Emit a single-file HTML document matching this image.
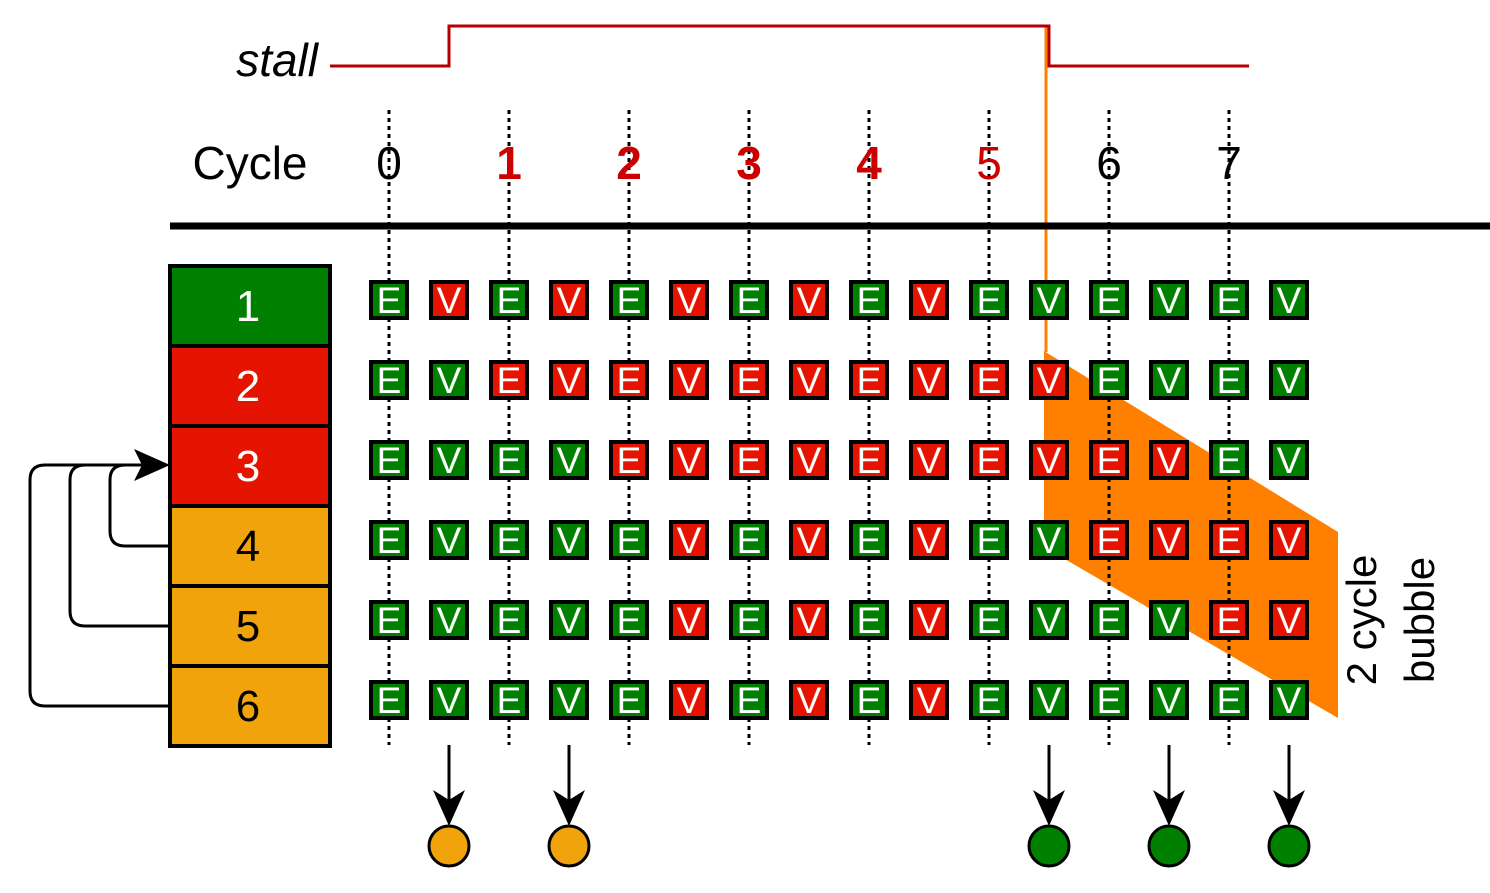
<!DOCTYPE html>
<html><head><meta charset="utf-8"><style>
html,body{margin:0;padding:0;background:#fff;}
svg{display:block;font-family:"Liberation Sans",sans-serif;}
</style></head><body>
<svg id="s" width="1490" height="893" viewBox="0 0 1490 893">
<polygon points="1044,351 1338,532 1338,718 1044,547" fill="#ff8000"/>
<line x1="1046" y1="26" x2="1046" y2="352" stroke="#ff8000" stroke-width="3"/>
<polyline points="330,66 449,66 449,26 1049,26 1049,66 1249,66" fill="none" stroke="#b20000" stroke-width="3"/>
<text x="318" y="76" font-size="46" font-style="italic" text-anchor="end">stall</text>
<text x="250" y="179" font-size="46" text-anchor="middle">Cycle</text>
<line x1="170" y1="226" x2="1490" y2="226" stroke="#000" stroke-width="7"/>
<g id="dots"></g>
<g id="cyc"></g>
<g id="left"></g>
<g id="grid"></g>
<g id="bottom"></g>
<g fill="none" stroke="#000" stroke-width="3">
<path d="M168,546 H125 Q110,546 110,531 V480 Q110,465 125,465 H160"/>
<path d="M168,626 H85 Q70,626 70,611 V480 Q70,465 85,465 H160"/>
<path d="M168,706 H45 Q30,706 30,691 V480 Q30,465 45,465 H160"/>
</g>
<polygon points="170,465 134,449 142,465 134,481" fill="#000"/>
<text transform="translate(1376,620) rotate(-90)" font-size="42" text-anchor="middle">2 cycle</text>
<text transform="translate(1434,620) rotate(-90)" font-size="42" text-anchor="middle">bubble</text>
</svg>
<script>
const cycles=["0","1","2","3","4","5","6","7"];
const cycleRed=[0,1,1,1,1,1,0,0];
const cycleBold=[0,1,1,1,1,0,0,0];
const stages=["1","2","3","4","5","6"];
const stageColors=["g","r","r","o","o","o"];
const rows=[
"grgrgrgrgrgggggg",
"ggrrrrrrrrrrgggg",
"ggggrrrrrrrrrrgg",
"gggggrgrgrggrrrr",
"gggggrgrgrggggrr",
"gggggrgrgrgggggg"];
const arrowSlots=[1,3,11,13,15];
const arrowColors=["o","o","g","g","g"];
const C={g:"#008000",r:"#e51400",o:"#f0a30a"};
const NS="http://www.w3.org/2000/svg";
function mk(t,a,p){const e=document.createElementNS(NS,t);for(const k in a)e.setAttribute(k,a[k]);p.appendChild(e);return e;}
const xs=i=>389+i*60, ys=r=>300+r*80;
const dots=document.getElementById('dots'),cyc=document.getElementById('cyc');
cycles.forEach((c,i)=>{
 const l=mk('line',{x1:389+i*120,y1:110,x2:389+i*120,y2:745,stroke:'#000','stroke-width':3,'stroke-dasharray':'4 4'},dots);
 
 
 const t=mk('text',{x:389+i*120,y:179,'font-size':46,'text-anchor':'middle',fill:cycleRed[i]?'#cc0000':'#000','font-weight':cycleBold[i]?'bold':'normal'},cyc);
 t.textContent=c;
 
 
});
const left=document.getElementById('left');
stages.forEach((s,i)=>{
 const r=mk('rect',{x:170,y:266+i*80,width:160,height:80,fill:C[stageColors[i]],stroke:'#000','stroke-width':4},left);
 
 
 const t=mk('text',{x:248,y:321+i*80,'font-size':44,'text-anchor':'middle',fill:stageColors[i]==='o'?'#000':'#fff'},left);
 t.textContent=s;
 
 
});
const grid=document.getElementById('grid');
rows.forEach((row,r)=>{
 for(let j=0;j<16;j++){
  const col=C[row[j]];
  const b=mk('rect',{x:xs(j)-18,y:ys(r)-18,width:36,height:36,fill:col,stroke:'#000','stroke-width':4},grid);
  
  
  const t=mk('text',{x:xs(j),y:ys(r)+13,'font-size':37,'text-anchor':'middle',fill:'#fff'},grid);
  t.textContent=j%2?'V':'E';
  
  
 }
});
const bot=document.getElementById('bottom');
arrowSlots.forEach((s,i)=>{
 const x=xs(s);
 const l=mk('line',{x1:x,y1:745,x2:x,y2:815,stroke:'#000','stroke-width':3},bot);
 
 
 const h=mk('polygon',{points:`${x},826 ${x-16},790 ${x},800 ${x+16},790`,fill:'#000'},bot);
 
 
 const c=mk('circle',{cx:x,cy:846,r:20,fill:C[arrowColors[i]],stroke:'#000','stroke-width':3},bot);
 
 
});
</script>
</body></html>
